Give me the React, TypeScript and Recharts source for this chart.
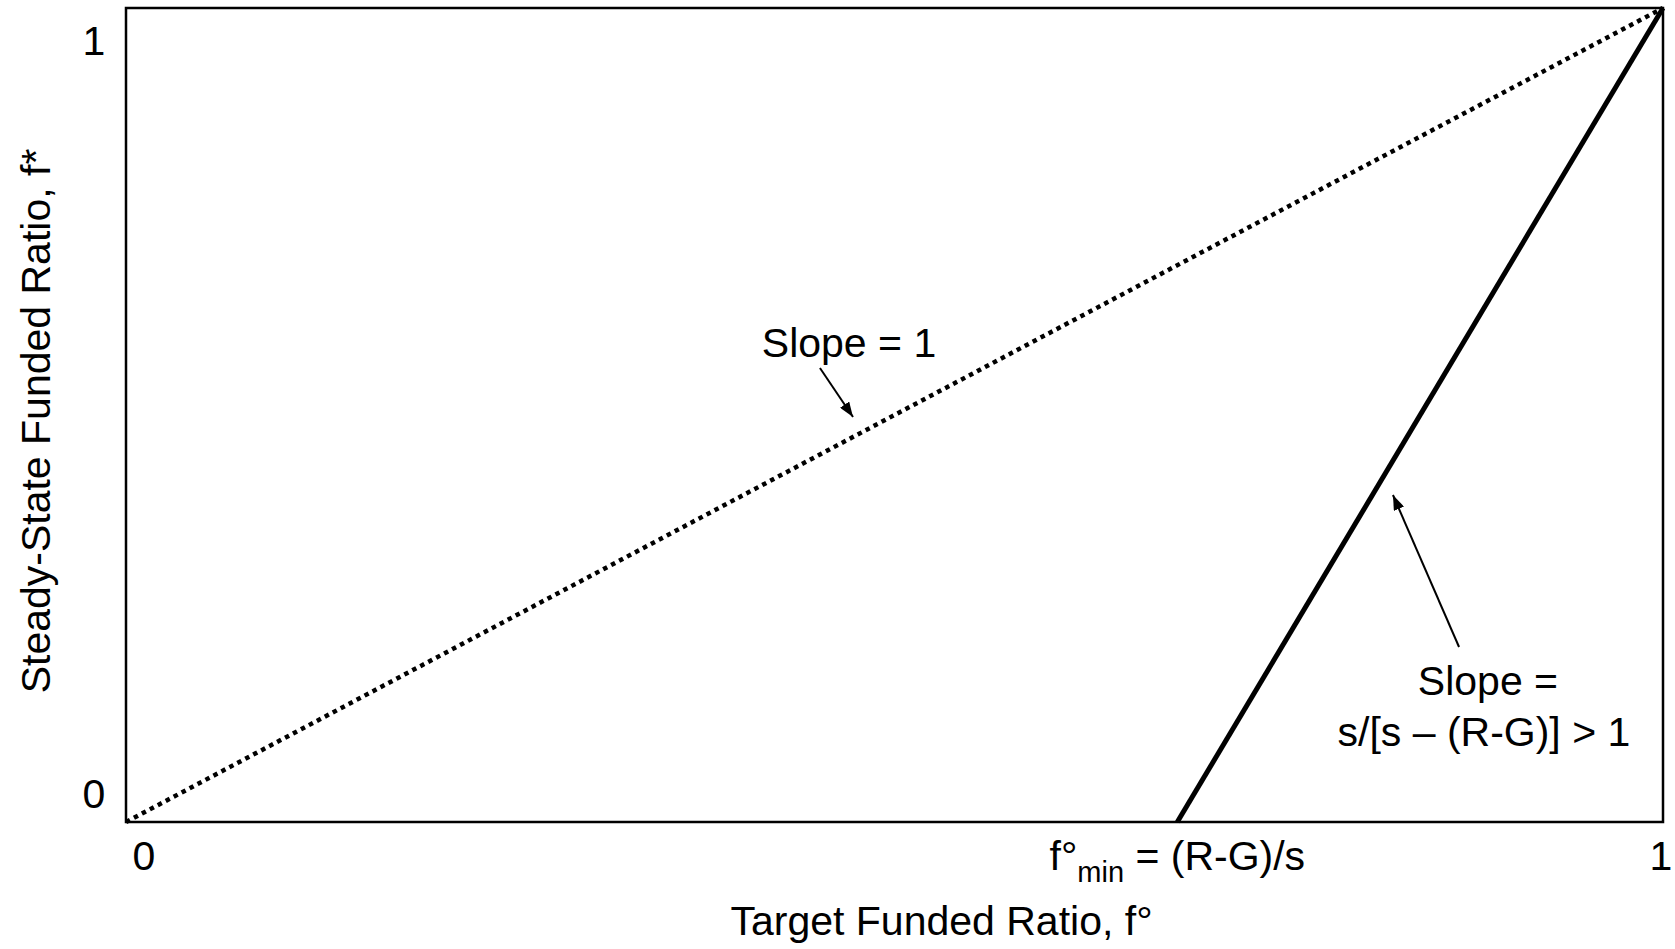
import { LineChart, Line, XAxis, YAxis, ReferenceArea, ReferenceLine, ReferenceDot } from 'recharts';

const fMin = 0.684;

const diagonal = [
  { x: 0, y: 0 },
  { x: 1, y: 1 },
];
const steadyState = [
  { x: fMin, y: 0 },
  { x: 1, y: 1 },
];
const xTicks = [0, fMin, 1];
const yTicks = [0, 1];

// annotations, in data units
const slopeOneArrow = [
  { x: 0.4515, y: 0.5577 },
  { x: 0.473, y: 0.4975 },
];
const steepArrow = [
  { x: 0.8673, y: 0.215 },
  { x: 0.8243, y: 0.4017 },
];
const slopeOneNote = { x: 0.4704, y: 0.5713 };
const steepNote = { x: 0.8861, y: 0.156 };

const FONT = '"Liberation Sans", Arial, sans-serif';
const FS = 41;

const XTick = ({ x, y, payload }: any) => {
  const v = payload.value;
  if (v === 0) {
    return (
      <text x={x + 18} y={y + 48} textAnchor="middle" fontSize={FS} fontFamily={FONT} fill="#000">
        0
      </text>
    );
  }
  if (v === 1) {
    return (
      <text x={x - 2} y={y + 48} textAnchor="middle" fontSize={FS} fontFamily={FONT} fill="#000">
        1
      </text>
    );
  }
  return (
    <text x={x} y={y + 48} textAnchor="middle" fontSize={FS} fontFamily={FONT} fill="#000">
      f°
      <tspan fontSize={29} dy={12}>min</tspan>
      <tspan dy={-12}> = (R-G)/s</tspan>
    </text>
  );
};

const YTick = ({ y, payload }: any) => {
  const v = payload.value;
  return (
    <text
      x={94}
      y={v === 1 ? y + 47 : y - 14}
      textAnchor="middle"
      fontSize={FS}
      fontFamily={FONT}
      fill="#000"
    >
      {v}
    </text>
  );
};

const Arrow = (p: any) => (
  <g>
    <defs>
      <marker
        id="arrowHead"
        markerUnits="userSpaceOnUse"
        markerWidth={15}
        markerHeight={11}
        refX={15}
        refY={5.5}
        orient="auto"
      >
        <path d="M0,0 L15,5.5 L0,11 z" fill="#000" />
      </marker>
    </defs>
    <line x1={p.x1} y1={p.y1} x2={p.x2} y2={p.y2} stroke="#000" strokeWidth={2} markerEnd="url(#arrowHead)" />
  </g>
);

export default function App() {
  return (
    <div style={{ position: 'absolute', left: 0, top: 0, background: '#fff' }}>
      <LineChart width={1675} height={949} margin={{ top: 8, right: 12, left: 0, bottom: 0 }}>
        <XAxis
          type="number"
          dataKey="x"
          domain={[0, 1]}
          ticks={xTicks}
          height={127}
          axisLine={false}
          tickLine={false}
          tickSize={0}
          tickMargin={0}
          tick={<XTick />}
          interval={0}
          label={(props: any) => {
            const vb = props.viewBox;
            return (
              <text
                x={vb.x + vb.width / 2 + 47}
                y={vb.y + 113}
                textAnchor="middle"
                fontSize={FS}
                fontFamily={FONT}
                fill="#000"
              >
                Target Funded Ratio, f°
              </text>
            );
          }}
        />
        <YAxis
          type="number"
          dataKey="y"
          domain={[0, 1]}
          ticks={yTicks}
          width={126}
          axisLine={false}
          tickLine={false}
          tickSize={0}
          tickMargin={0}
          tick={<YTick />}
          interval={0}
          label={(props: any) => {
            const vb = props.viewBox;
            const cy = vb.y + vb.height / 2 + 6;
            return (
              <text
                x={50}
                y={cy}
                transform={`rotate(-90 50 ${cy})`}
                textAnchor="middle"
                fontSize={FS}
                fontFamily={FONT}
                fill="#000"
              >
                Steady-State Funded Ratio, f*
              </text>
            );
          }}
        />
        <ReferenceArea x1={0} x2={1} y1={0} y2={1} fill="none" stroke="#000" strokeWidth={2.5} />
        <Line
          data={diagonal}
          dataKey="y"
          type="linear"
          stroke="#000"
          strokeWidth={4.5}
          strokeDasharray="4.5 4.5"
          dot={false}
          isAnimationActive={false}
        />
        <Line
          data={steadyState}
          dataKey="y"
          type="linear"
          stroke="#000"
          strokeWidth={5}
          dot={false}
          isAnimationActive={false}
        />
        <ReferenceLine
          segment={slopeOneArrow}
          shape={<Arrow />}
          ifOverflow="visible"
        />
        <ReferenceLine
          segment={steepArrow}
          shape={<Arrow />}
          ifOverflow="visible"
        />
        <ReferenceDot
          x={slopeOneNote.x}
          y={slopeOneNote.y}
          r={0}
          ifOverflow="visible"
          shape={(p: any) => (
            <text x={p.cx} y={p.cy} textAnchor="middle" fontSize={FS} fontFamily={FONT} fill="#000">
              Slope = 1
            </text>
          )}
        />
        <ReferenceDot
          x={steepNote.x}
          y={steepNote.y}
          r={0}
          ifOverflow="visible"
          shape={(p: any) => (
            <text x={p.cx} y={p.cy} textAnchor="middle" fontSize={FS} fontFamily={FONT} fill="#000">
              <tspan x={p.cx}>Slope =</tspan>
              <tspan x={p.cx - 4} dy={51}>s/[s – (R-G)] &gt; 1</tspan>
            </text>
          )}
        />
      </LineChart>
    </div>
  );
}
